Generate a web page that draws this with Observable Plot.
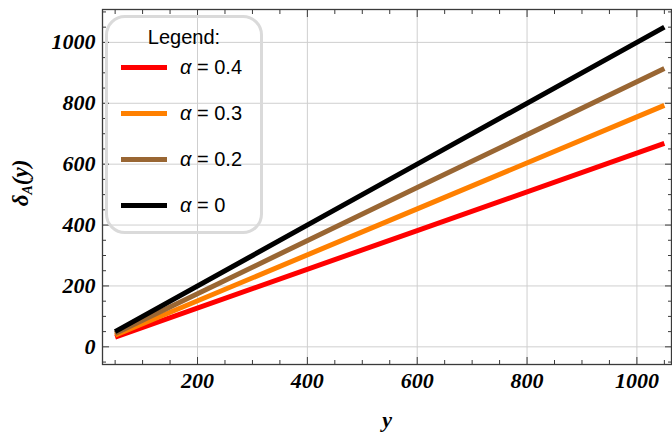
<!DOCTYPE html>
<html><head><meta charset="utf-8">
<script src="https://cdn.jsdelivr.net/npm/d3@7"></script>
<script src="https://cdn.jsdelivr.net/npm/@observablehq/plot@0.6"></script>
<style>
body{margin:0;background:#fff}
#wrap{position:relative;width:672px;height:437px;overflow:hidden}
#legend{position:absolute;left:105px;top:15px;width:152px;height:213px;border:3px solid #dadada;border-radius:20px;font-family:"Liberation Sans",Arial,sans-serif;font-size:20px;color:#000}
#legend .title{position:absolute;left:0;width:100%;text-align:center;top:8px}
#legend .row{position:absolute;left:13px;height:22px;display:flex;align-items:center}
#legend .sw{width:46px;height:5px;margin-right:13px}
#ylab{position:absolute;left:22px;top:183px;transform:translate(-50%,-50%) rotate(-90deg);font-family:"Liberation Serif",serif;font-weight:bold;font-style:italic;font-size:23px;white-space:nowrap}
#ylab sub{font-size:14px;vertical-align:-4px}
svg text{font-family:"Liberation Serif",serif}
svg g[aria-label$="tick label"] text, svg g[aria-label="text"] text{font-style:italic;font-weight:bold}
</style></head><body><div id="wrap"></div>
<script>
// data
const yValues = [50, 600, 1050];
const seriesLabels = ["α = 0.4", "α = 0.3", "α = 0.2", "α = 0"];
const seriesColors = ["#ff0000", "#ff8000", "#996633", "#000000"];
const deltaAlpha04 = [32, 382, 668];
const deltaAlpha03 = [38, 453, 793];
const deltaAlpha02 = [44, 523, 914];
const deltaAlpha00 = [50, 600, 1050];
const xMajorTicks = [200, 400, 600, 800, 1000];
const yMajorTicks = [0, 200, 400, 600, 800, 1000];
const xMinorTicks = [50, 100, 150, 250, 300, 350, 450, 500, 550, 650, 700, 750, 850, 900, 950, 1050];
const yMinorTicks = [-50, 50, 100, 150, 250, 300, 350, 450, 500, 550, 650, 700, 750, 850, 900, 950, 1050, 1100];
const xLabel = "y";

const seriesValues = [deltaAlpha04, deltaAlpha03, deltaAlpha02, deltaAlpha00];
const rows = [];
seriesValues.forEach((vals, i) => vals.forEach((v, j) => rows.push({y: yValues[j], delta: v, series: seriesLabels[i]})));

const tickFont = {fontSize: 22, fontWeight: "bold", fontStyle: "italic", fontFamily: "Liberation Serif"};
const frameColor = "#3a3a3a";
const fmt = d => String(d);

const plot = Plot.plot({
  width: 672, height: 437,
  marginLeft: 102, marginRight: 1, marginTop: 9, marginBottom: 73,
  x: {domain: [27, 1063]},
  y: {domain: [-58, 1108]},
  color: {domain: seriesLabels, range: seriesColors},
  marks: [
    Plot.gridX(xMajorTicks, {stroke: "#cfcfcf", strokeOpacity: 1}),
    Plot.gridY(yMajorTicks, {stroke: "#cfcfcf", strokeOpacity: 1}),
    Plot.line(rows, {x: "y", y: "delta", z: "series", stroke: "series", strokeWidth: 5, strokeLinecap: "butt"}),
    // ticks pointing inward on all four sides
    Plot.axisX(xMajorTicks, {anchor: "bottom", tickSize: -7, text: null, label: null, stroke: frameColor}),
    Plot.axisX(xMinorTicks, {anchor: "bottom", tickSize: -4, text: null, label: null, stroke: frameColor}),
    Plot.axisX(xMajorTicks, {anchor: "top", tickSize: -7, text: null, label: null, stroke: frameColor}),
    Plot.axisX(xMinorTicks, {anchor: "top", tickSize: -4, text: null, label: null, stroke: frameColor}),
    Plot.axisY(yMajorTicks, {anchor: "left", tickSize: -7, text: null, label: null, stroke: frameColor}),
    Plot.axisY(yMinorTicks, {anchor: "left", tickSize: -4, text: null, label: null, stroke: frameColor}),
    Plot.axisY(yMajorTicks, {anchor: "right", tickSize: -7, text: null, label: null, stroke: frameColor}),
    Plot.axisY(yMinorTicks, {anchor: "right", tickSize: -4, text: null, label: null, stroke: frameColor}),
    // tick labels
    Plot.axisX(xMajorTicks, {anchor: "bottom", tickSize: 0, tickPadding: 8, label: null, tickFormat: fmt, ...tickFont}),
    Plot.axisY(yMajorTicks, {anchor: "left", tickSize: 0, tickPadding: 7, label: null, tickFormat: fmt, ...tickFont}),
    Plot.frame({stroke: frameColor, strokeWidth: 1.3}),
    Plot.text([xLabel], {frameAnchor: "bottom", dy: 62, text: d => d, ...tickFont})
  ]
});

const wrap = document.getElementById("wrap");
wrap.appendChild(plot);

const ylab = document.createElement("div");
ylab.id = "ylab";
ylab.innerHTML = "δ<sub>A</sub>(y)";
wrap.appendChild(ylab);

const legend = document.createElement("div");
legend.id = "legend";
const title = document.createElement("div");
title.className = "title";
title.textContent = "Legend:";
legend.appendChild(title);
seriesLabels.forEach((lab, i) => {
  const row = document.createElement("div");
  row.className = "row";
  row.style.top = (38 + i * 46) + "px";
  const sw = document.createElement("span");
  sw.className = "sw";
  sw.style.background = seriesColors[i];
  const t = document.createElement("span");
  const parts = lab.split(" ");
  t.innerHTML = "<i>α</i> " + parts.slice(1).join(" ");
  row.appendChild(sw);
  row.appendChild(t);
  legend.appendChild(row);
});
wrap.appendChild(legend);
</script>
</body></html>
